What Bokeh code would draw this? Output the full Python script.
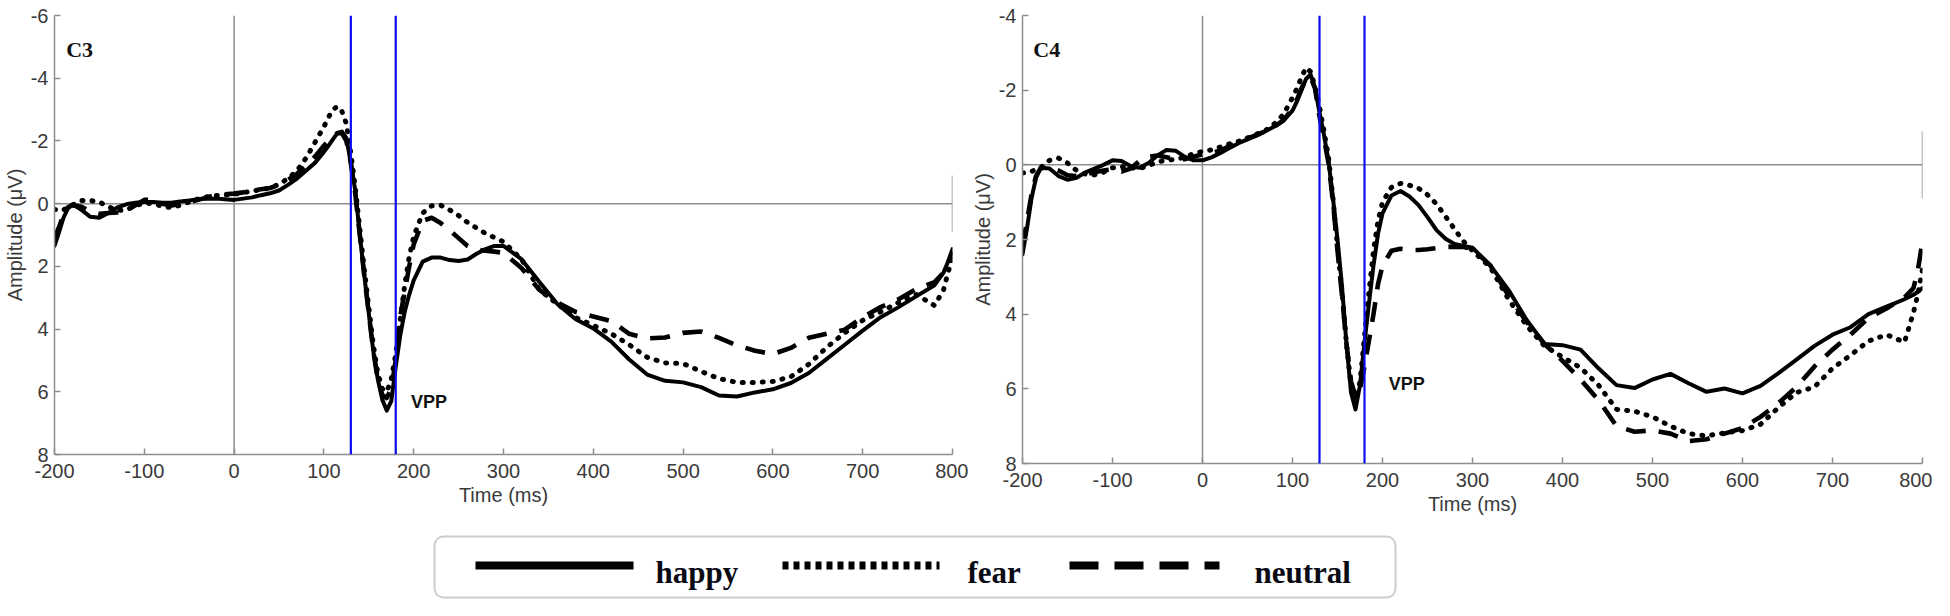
from bokeh.plotting import figure
from bokeh.models import (Range1d, Span, Label, BoxAnnotation, FixedTicker,
                          NumeralTickFormatter)
from bokeh.layouts import column, row
from bokeh.embed import file_html
from bokeh.resources import INLINE

# ---------------- data ----------------
TIME = [-200, -195, -190, -185, -180, -170, -160, -150, -140, -130, -120, -110, -100,
        -90, -80, -70, -60, -50, -40, -30, -20, -10, 0, 10, 20, 30, 40, 50, 60, 70,
        80, 90, 100,
        105, 110, 115, 120, 125, 130, 135, 140, 145, 150, 155, 160, 165, 170, 175,
        180, 185, 190, 195, 200,
        210, 220, 230, 240, 250, 260, 270, 280, 290, 300,
        320, 340, 360, 380, 400, 420, 440, 460, 480, 500, 520, 540, 560, 580, 600,
        620, 640, 660, 680, 700, 720, 740, 760, 780,
        790, 795, 800]

C3_HAPPY = [1.35, 0.92, 0.45, 0.15, 0.02, 0.2, 0.42, 0.45, 0.3, 0.12, 0.02, -0.03, -0.05,
            -0.05, -0.03, -0.03, -0.07, -0.1, -0.14, -0.16, -0.16, -0.14, -0.12, -0.16,
            -0.2, -0.27, -0.33, -0.42, -0.6, -0.8, -1.05, -1.3, -1.65,
            -1.84, -2.05, -2.25, -2.3, -2.1, -1.3, -0.4, 1.0, 2.3, 3.5, 4.7, 5.6, 6.25,
            6.6, 6.3, 5.2, 4.2, 3.45, 2.9, 2.45,
            1.85, 1.72, 1.72, 1.8, 1.83, 1.78, 1.6, 1.45, 1.35, 1.35,
            1.77, 2.5, 3.2, 3.68, 3.98, 4.4, 4.97, 5.45, 5.65, 5.7, 5.85, 6.12, 6.15,
            6.02, 5.92, 5.72, 5.4, 4.95, 4.5, 4.05, 3.62, 3.3, 2.95, 2.6,
            2.2, 1.85, 1.45]

C3_FEAR = [0.18, 0.22, 0.2, 0.12, 0.05, -0.1, -0.1, -0.05, 0.1, 0.22, 0.2, 0.07, -0.02,
           0.0, 0.08, 0.13, 0.05, -0.05, -0.15, -0.22, -0.26, -0.28, -0.3, -0.35, -0.4,
           -0.45, -0.5, -0.62, -0.8, -1.05, -1.45, -1.95, -2.45,
           -2.75, -3.0, -3.1, -2.95, -2.55, -1.6, -0.5, 0.8, 2.1, 3.3, 4.5, 5.4, 5.9,
           6.0, 5.6, 4.8, 3.7, 2.6, 1.7, 1.05,
           0.3, 0.07, 0.05, 0.2, 0.38, 0.6, 0.78, 0.95, 1.08, 1.22,
           1.77, 2.75, 3.2, 3.63, 3.88, 4.15, 4.5, 4.9, 5.08, 5.1, 5.35, 5.58, 5.7, 5.7,
           5.67, 5.52, 5.12, 4.58, 4.12, 3.72, 3.45, 3.15, 2.9, 3.25,
           2.75, 2.2, 1.7]

C3_NEUTRAL = [1.1, 0.75, 0.35, 0.12, 0.05, 0.1, 0.25, 0.32, 0.3, 0.28, 0.22, 0.05, -0.12,
              -0.12, 0.0, 0.06, 0.02, -0.05, -0.12, -0.2, -0.28, -0.3, -0.32, -0.36,
              -0.42, -0.46, -0.5, -0.6, -0.75, -0.95, -1.2, -1.5, -1.85,
              -2.0, -2.15, -2.25, -2.25, -2.0, -1.3, -0.3, 1.0, 2.3, 3.5, 4.7, 5.6, 6.1,
              6.2, 5.9, 5.0, 3.6, 2.8, 2.0, 1.3,
              0.55, 0.45, 0.62, 0.85, 1.1, 1.35, 1.46, 1.5, 1.53, 1.57,
              2.05, 2.75, 3.15, 3.45, 3.6, 3.75, 4.15, 4.3, 4.27, 4.12, 4.08, 4.28, 4.52,
              4.69, 4.8, 4.6, 4.28, 4.15, 4.02, 3.62, 3.3, 3.05, 2.72, 2.5,
              2.2, 1.9, 1.55]

C4_HAPPY = [2.4, 1.7, 0.9, 0.35, 0.08, 0.1, 0.3, 0.4, 0.35, 0.2, 0.1, 0.0, -0.12,
            -0.1, 0.03, 0.08, -0.05, -0.25, -0.4, -0.38, -0.22, -0.12, -0.12, -0.2,
            -0.32, -0.45, -0.58, -0.68, -0.78, -0.9, -1.03, -1.18, -1.45,
            -1.7, -2.0, -2.3, -2.42, -2.06, -1.4, -0.8, -0.1, 0.9, 2.0, 3.25, 4.8, 6.1,
            6.55, 5.9, 4.75, 3.7, 2.7, 1.85, 1.3,
            0.82, 0.7, 0.85, 1.08, 1.4, 1.75, 1.98, 2.12, 2.17, 2.22,
            2.7, 3.35, 4.15, 4.8, 4.83, 4.95, 5.45, 5.9, 5.98, 5.75, 5.6, 5.85, 6.08,
            5.99, 6.12, 5.92, 5.58, 5.22, 4.85, 4.55, 4.35, 4.0, 3.8, 3.6,
            3.48, 3.4, 3.3]

C4_FEAR = [0.22, 0.2, 0.18, 0.12, 0.08, -0.12, -0.18, -0.05, 0.15, 0.25, 0.27, 0.2, 0.08,
           0.05, 0.08, 0.1, 0.02, -0.08, -0.12, -0.15, -0.2, -0.3, -0.36, -0.4, -0.48,
           -0.56, -0.63, -0.72, -0.82, -0.92, -1.1, -1.35, -1.8,
           -2.05, -2.35, -2.6, -2.5, -2.1, -1.55, -0.9, -0.2, 0.9, 2.2, 3.4, 4.8, 5.9,
           6.3, 5.8, 4.6, 3.4, 2.3, 1.5, 1.0,
           0.6, 0.5, 0.55, 0.63, 0.8, 1.05, 1.38, 1.72, 2.05, 2.3,
           2.75, 3.6, 4.3, 4.85, 5.15, 5.43, 5.9, 6.55, 6.6, 6.75, 7.0, 7.2, 7.26, 7.18,
           7.12, 6.95, 6.5, 6.1, 5.95, 5.45, 5.1, 4.72, 4.55, 4.75,
           3.95, 3.45, 2.8]

C4_NEUTRAL = [2.2, 1.5, 0.8, 0.3, 0.1, 0.05, 0.15, 0.28, 0.3, 0.25, 0.2, 0.15, 0.12,
              0.18, 0.1, -0.1, -0.22, -0.25, -0.2, -0.15, -0.15, -0.22, -0.28, -0.32,
              -0.38, -0.5, -0.6, -0.7, -0.8, -0.9, -1.02, -1.2, -1.5,
              -1.75, -2.05, -2.3, -2.35, -2.05, -1.3, -0.7, -0.05, 1.0, 2.3, 3.5, 4.8,
              5.8, 6.2, 6.0, 5.4, 4.7, 4.0, 3.2, 2.7,
              2.3, 2.25, 2.28, 2.28, 2.26, 2.23, 2.2, 2.19, 2.2, 2.25,
              2.7, 3.5, 4.2, 4.8, 5.25, 5.75, 6.3, 7.0, 7.15, 7.11, 7.2, 7.4, 7.35, 7.2,
              7.05, 6.75, 6.38, 5.95, 5.4, 4.95, 4.55, 4.1, 3.85, 3.55,
              3.3, 2.8, 2.05]

CONDITIONS = ["happy", "fear", "neutral"]
X_TICKS = [-200, -100, 0, 100, 200, 300, 400, 500, 600, 700, 800]
C3_Y_TICKS = [-6, -4, -2, 0, 2, 4, 6, 8]
C4_Y_TICKS = [-4, -2, 0, 2, 4, 6, 8]
VPP_WINDOW = [130, 180]
END_STUB = [-0.9, 0.9]

# ---------------- styling ----------------
AXIS_GRAY = "#8e8e8e"
TEXT_GRAY = "#3a3a3a"
BLUE = "#0b0bef"
STYLES = {
    "happy": dict(line_dash="solid", line_width=4.0, line_cap="round", line_join="round"),
    "fear": dict(line_dash="1 9", line_width=5.0, line_cap="round", line_join="round"),
    "neutral": dict(line_dash="20 13", line_width=4.6, line_cap="butt", line_join="round"),
}
LEGEND_STYLES = {
    "happy": dict(line_dash="solid", line_width=8),
    "fear": dict(line_dash="6 5", line_width=8),
    "neutral": dict(line_dash="29 16", line_width=8),
}


def make_panel(name, series, yticks, frame_w, frame_h, top_b, left_b, right_b,
               name_xy, vpp_xy):
    p = figure(frame_width=frame_w, frame_height=frame_h,
               x_range=Range1d(X_TICKS[0], X_TICKS[-1]),
               y_range=Range1d(yticks[-1], yticks[0]),
               output_backend="svg", toolbar_location=None,
               min_border_left=left_b, min_border_right=right_b,
               min_border_top=top_b, min_border_bottom=62,
               background_fill_color="white", border_fill_color="white")
    p.outline_line_color = None
    p.grid.visible = False

    p.xaxis.ticker = FixedTicker(ticks=X_TICKS)
    p.yaxis.ticker = FixedTicker(ticks=yticks)
    for ax in (p.xaxis, p.yaxis):
        ax.formatter = NumeralTickFormatter(format="0")
        ax.axis_line_color = AXIS_GRAY
        ax.axis_line_width = 1.5
        ax.major_tick_line_color = AXIS_GRAY
        ax.major_tick_line_width = 1.5
        ax.major_tick_in = 6
        ax.major_tick_out = 0
        ax.minor_tick_line_color = None
        ax.major_label_text_font = "Liberation Sans"
        ax.major_label_text_font_size = "20px"
        ax.major_label_text_color = TEXT_GRAY
        ax.axis_label_text_font = "Liberation Sans"
        ax.axis_label_text_font_size = "20px"
        ax.axis_label_text_font_style = "normal"
        ax.axis_label_text_color = TEXT_GRAY
    p.xaxis.axis_label = "Time (ms)"
    p.xaxis.major_label_standoff = 9
    p.xaxis.axis_label_standoff = 3
    p.yaxis.axis_label = "Amplitude (\u03bcV)"
    p.yaxis.major_label_standoff = 6
    p.yaxis.axis_label_standoff = 2

    p.add_layout(Span(location=0, dimension="width", line_color=AXIS_GRAY,
                      line_width=1.5, level="underlay"))
    p.add_layout(Span(location=0, dimension="height", line_color=AXIS_GRAY,
                      line_width=1.5, level="underlay"))
    p.segment(x0=[X_TICKS[-1]], x1=[X_TICKS[-1]], y0=[END_STUB[0]], y1=[END_STUB[1]],
              line_color=AXIS_GRAY, line_width=1.5)

    for cond in ["neutral", "fear", "happy"]:
        p.line(TIME, series[cond], line_color="black", **STYLES[cond])

    for t in VPP_WINDOW:
        p.add_layout(Span(location=t, dimension="height", line_color=BLUE,
                          line_width=2.2))

    p.add_layout(Label(x=name_xy[0], y=name_xy[1], text=name,
                       text_font="Liberation Serif", text_font_style="bold",
                       text_font_size="22px", text_color="#111111",
                       text_baseline="alphabetic"))
    p.add_layout(Label(x=vpp_xy[0], y=vpp_xy[1], text="VPP",
                       text_font="Liberation Sans", text_font_style="bold",
                       text_font_size="18px", text_color="#111111",
                       text_baseline="alphabetic"))
    return p


p1 = make_panel("C3", {"happy": C3_HAPPY, "fear": C3_FEAR, "neutral": C3_NEUTRAL},
                C3_Y_TICKS, 898, 439, 15, 48, 16, (-187, -4.92), (197, 6.34))
p2 = make_panel("C4", {"happy": C4_HAPPY, "fear": C4_FEAR, "neutral": C4_NEUTRAL},
                C4_Y_TICKS, 900, 448, 6, 54, 10, (-188, -3.09), (207, 5.87))

# ---------------- legend strip ----------------
LEG_W, LEG_H = 1932, 84
leg = figure(width=LEG_W, height=LEG_H, x_range=Range1d(0, LEG_W),
             y_range=Range1d(LEG_H, 0), x_axis_type=None, y_axis_type=None,
             toolbar_location=None, output_backend="svg", min_border=0,
             background_fill_color="white", border_fill_color="white")
leg.outline_line_color = None
leg.grid.visible = False
leg.add_layout(BoxAnnotation(left=434, right=1395, top=20, bottom=81,
                             fill_color=None, fill_alpha=0.0,
                             line_color="#5a5a5a", line_width=2, border_radius=9,
                             level="underlay"))
LEG_SAMPLE_X = {"happy": (475, 633, 655), "fear": (782, 939, 967),
                "neutral": (1069, 1219, 1254)}
for cond in CONDITIONS:
    x0, x1, xt = LEG_SAMPLE_X[cond]
    leg.line([x0, x1], [49, 49], line_color="black", line_cap="butt",
             **LEGEND_STYLES[cond])
    leg.add_layout(Label(x=xt, y=56, text=cond, text_font="Liberation Serif",
                         text_font_style="bold", text_font_size="31px",
                         text_color="#0a0a14", text_baseline="alphabetic"))

layout = column(row(p1, p2, spacing=0), leg, spacing=0)
open("out.html", "w").write(file_html(layout, INLINE))
